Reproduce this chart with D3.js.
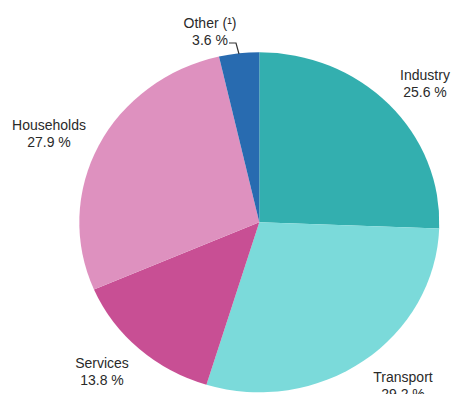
<!DOCTYPE html>
<html>
<head>
<meta charset="utf-8">
<script src="https://cdn.jsdelivr.net/npm/d3@7"></script>
<style>
  html, body { margin: 0; padding: 0; background: #fff; }
  svg { display: block; }
  text { font-family: "Liberation Sans", Arial, sans-serif; font-size: 14px; fill: #2a2a2a; }
</style>
</head>
<body>
<svg id="chart" width="451" height="394"></svg>
<script>
// Final energy consumption by sector (%)
const sectors = ["Industry", "Transport", "Services", "Households", "Other (\u00B9)"];
const shares = [25.6, 29.2, 13.8, 27.9, 3.6];
const colors = ["#33afaf", "#7bdada", "#c84f94", "#de91bf", "#286bb0"];
// label anchor points (centre of the first label line)
const labelX = [425, 403, 102, 49, 210];
const labelY = [75, 377, 363, 125, 23];

const svg = d3.select("#chart");
const cx = 259.3, cy = 222.3, r = 180, squash = 170 / 180;

const pie = d3.pie().sort(null).value(d => d.value);
const arc = d3.arc().innerRadius(0).outerRadius(r);
const data = sectors.map((s, i) => ({ name: s, value: shares[i], color: colors[i] }));

const g = svg.append("g")
  .attr("transform", `translate(${cx},${cy}) scale(1,${squash})`);

g.selectAll("path")
  .data(pie(data))
  .join("path")
  .attr("d", arc)
  .attr("fill", d => d.data.color);

// leader for the small slice
svg.append("path")
  .attr("d", "M229,43 L236,43 L239,54")
  .attr("fill", "none")
  .attr("stroke", "#333")
  .attr("stroke-width", 1.2);

const labels = svg.selectAll("g.label")
  .data(data)
  .join("g")
  .attr("class", "label")
  .attr("transform", (d, i) => `translate(${labelX[i]},${labelY[i]})`);

labels.append("text")
  .attr("text-anchor", "middle")
  .attr("y", 5)
  .text(d => d.name);
labels.append("text")
  .attr("text-anchor", "middle")
  .attr("y", 22)
  .text(d => d3.format(".1f")(d.value) + " %");
</script>
</body>
</html>
